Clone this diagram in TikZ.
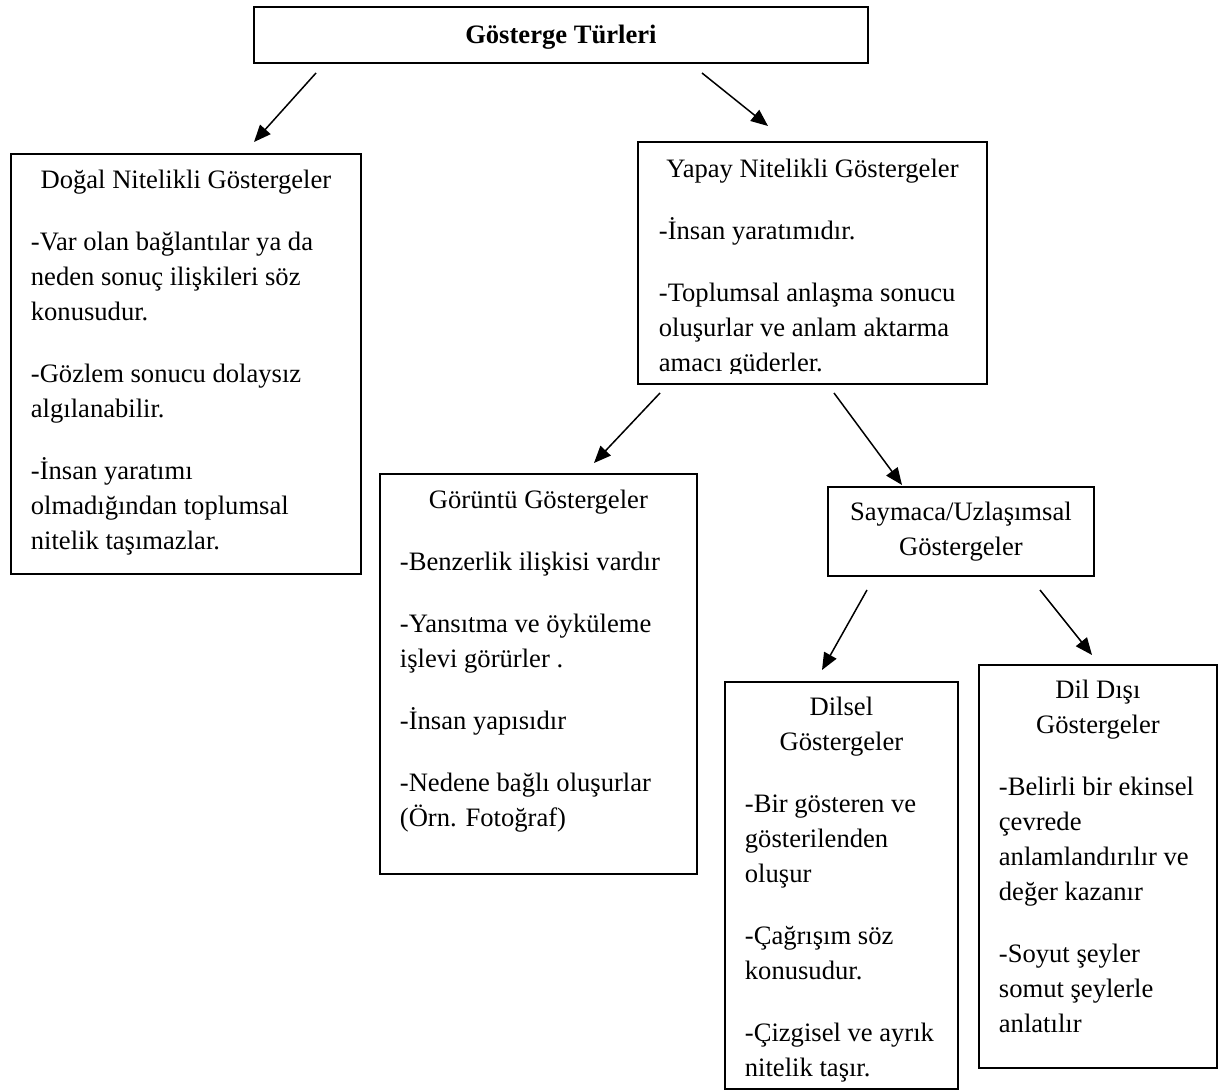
\documentclass[tikz,border=0pt]{standalone}
\usepackage{fontspec}
\setmainfont{Liberation Serif}
\usetikzlibrary{arrows.meta}

% first line height, gap between items, indented body text
\newcommand{\ust}{\rule{0pt}{35pt}}
\newcommand{\bosluk}{\par\vspace{27pt}}
\newcommand{\sol}{\raggedright\leftskip=20pt\relax}

\begin{document}
\begin{tikzpicture}[x=1pt,y=-1pt,
  kutu/.style={draw, line width=1.8pt, inner sep=0pt, anchor=north west,
    font=\fontsize{26.6pt}{35pt}\selectfont},
  ok/.style={line width=1.5pt, -{Triangle[length=17pt,width=14pt]}}]
  \fill[white] (0,0) rectangle (1229,1091);
  \useasboundingbox (0,0) rectangle (1229,1091);

  % top box
  \node[kutu] (baslik) at (253,6)
    {\parbox[t][56pt][t]{614pt}{\centering\rule{0pt}{37pt}\bfseries Gösterge Türleri}};

  % first level
  \node[kutu] (dogal) at (10,153)
    {\parbox[t][420pt][t]{350pt}{\centering\ust Doğal Nitelikli Göstergeler\bosluk
      \sol -Var olan bağlantılar ya da\\neden sonuç ilişkileri söz\\konusudur.\bosluk
      -Gözlem sonucu dolaysız\\algılanabilir.\bosluk
      -İnsan yaratımı\\olmadığından toplumsal\\nitelik taşımazlar.}};

  \begin{scope}
    \clip (638,142) rectangle (985,373);
    \node[kutu, draw=none] (yapay) at (638,142)
      {\parbox[t][240pt][t]{347pt}{\centering\ust Yapay Nitelikli Göstergeler\bosluk
        \sol -İnsan yaratımıdır.\bosluk
        -Toplumsal anlaşma sonucu\\oluşurlar ve anlam aktarma\\amacı güderler.}};
  \end{scope}
  \draw[line width=1.8pt] (yapay.north west) rectangle (yapay.south east);

  % second level
  \node[kutu] (goruntu) at (379,473)
    {\parbox[t][400pt][t]{317pt}{\centering\ust Görüntü Göstergeler\bosluk
      \sol -Benzerlik ilişkisi vardır\bosluk
      -Yansıtma ve öyküleme\\işlevi görürler .\bosluk
      -İnsan yapısıdır\bosluk
      -Nedene bağlı oluşurlar\\(Örn. Fotoğraf)}};

  \node[kutu] (saymaca) at (827,486)
    {\parbox[t][89pt][t]{266pt}{\centering\rule{0pt}{34pt}Saymaca/Uzlaşımsal\\Göstergeler}};

  % third level
  \node[kutu] (dilsel) at (724,681)
    {\parbox[t][407pt][t]{233pt}{\centering\rule{0pt}{34pt}Dilsel\\Göstergeler\bosluk
      \sol -Bir gösteren ve\\gösterilenden\\oluşur\bosluk
      -Çağrışım söz\\konusudur.\bosluk
      -Çizgisel ve ayrık\\nitelik taşır.}};

  \node[kutu] (dildisi) at (978,664)
    {\parbox[t][403pt][t]{238pt}{\centering\rule{0pt}{34pt}Dil Dışı\\Göstergeler\bosluk
      \sol -Belirli bir ekinsel\\çevrede\\anlamlandırılır ve\\değer kazanır\bosluk
      -Soyut şeyler\\somut şeylerle\\anlatılır}};

  % arrow ends (they stop short of the boxes)
  \coordinate (b1) at (316,73);   \coordinate (d1) at (254,142);
  \coordinate (b2) at (702,73);   \coordinate (y1) at (768,126);
  \coordinate (y2) at (660,393);  \coordinate (g1) at (594,463);
  \coordinate (y3) at (834,393);  \coordinate (s1) at (902,485);
  \coordinate (s2) at (867,590);  \coordinate (dl) at (822,670);
  \coordinate (s3) at (1040,590); \coordinate (dd) at (1092,655);

  \draw[ok] (b1) -- (d1);
  \draw[ok] (b2) -- (y1);
  \draw[ok] (y2) -- (g1);
  \draw[ok] (y3) -- (s1);
  \draw[ok] (s2) -- (dl);
  \draw[ok] (s3) -- (dd);
\end{tikzpicture}
\end{document}
